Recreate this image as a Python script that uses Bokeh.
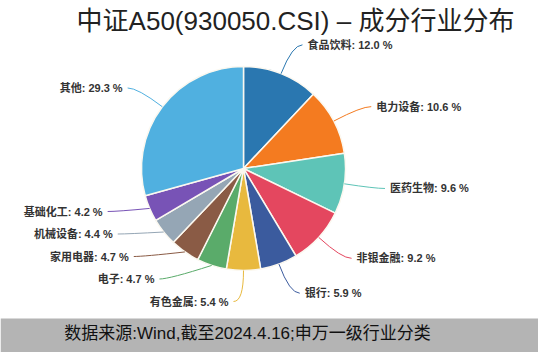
import numpy as np
from bokeh.plotting import figure
from bokeh.models import Range1d, ColumnDataSource
from bokeh.core.properties import value
from bokeh.embed import file_html
from bokeh.resources import INLINE

# ---- data ----
industries = ["食品饮料", "电力设备", "医药生物", "非银金融", "银行", "有色金属",
              "电子", "家用电器", "机械设备", "基础化工", "其他"]
weights = [12.0, 10.6, 9.6, 9.2, 5.9, 5.4, 4.7, 4.7, 4.4, 4.2, 29.3]
colors = ["#2a77b0", "#f47b20", "#5ec4b7", "#e4475f", "#3b5b9e", "#e8b93e",
          "#5aab6a", "#8a5b45", "#95a6b5", "#7853b6", "#50b0e0"]
title_text = "中证A50(930050.CSI) – 成分行业分布"
source_text = "数据来源:Wind,截至2024.4.16;申万一级行业分类"

# ---- layout ----
W, H = 538, 352
CX, CY = 243, 168          # pie centre in screen px (y downward)
R = 102                    # pie radius
R1 = 133                   # leader elbow radius
L2 = 10                    # horizontal leader length
GAP = 5
MIN_SEP = 22.5
FONT = "Liberation Sans, Noto Sans CJK SC"

def fy(ypx):
    return H - ypx

w = np.array(weights, dtype=float)
frac = w / w.sum()
cum = np.concatenate([[0.0], np.cumsum(frac)])
th0 = cum[:-1] * 2 * np.pi
th1 = cum[1:] * 2 * np.pi
mid = (th0 + th1) / 2

p = figure(width=W, height=H, output_backend="svg", toolbar_location=None,
           x_range=Range1d(0, W), y_range=Range1d(0, H), min_border=0)
p.axis.visible = False
p.grid.visible = False
p.outline_line_color = None
p.background_fill_color = "white"
p.border_fill_color = "white"

wsrc = ColumnDataSource(dict(
    x=[CX] * len(w), y=[fy(CY)] * len(w),
    start=list(np.pi / 2 - th1), end=list(np.pi / 2 - th0),
    color=colors))
p.wedge(x="x", y="y", radius=R, radius_units="screen", start_angle="start",
        end_angle="end", direction="anticlock", fill_color="color",
        line_color="#fbf8f0", line_width=1.5, source=wsrc)

# label positions
sx = np.sin(mid)
right = sx > 1e-6
ey = CY - R1 * np.cos(mid)
ey = ey.copy()
for side in (True, False):
    idx = [i for i in range(len(w)) if right[i] == side]
    idx.sort(key=lambda i: -ey[i])  # bottom first
    prev = None
    for i in idx:
        if prev is not None and ey[i] > prev - MIN_SEP:
            ey[i] = prev - MIN_SEP
        prev = ey[i]

for i in range(len(w)):
    s = 1 if right[i] else -1
    x0 = CX + R * np.sin(mid[i])
    y0 = CY - R * np.cos(mid[i])
    dy = ey[i] - CY
    ex = CX + s * np.sqrt(max(R1 ** 2 - dy ** 2, 0.0))
    lx = ex + s * L2
    p.quadratic(x0=x0, y0=fy(y0), x1=lx, y1=fy(ey[i]), cx=ex, cy=fy(ey[i]),
                line_color=colors[i], line_width=1)
    p.text(x=[lx + s * GAP], y=[fy(ey[i])],
           text=[f"{industries[i]}: {weights[i]:.1f} %"],
           text_font=value(FONT), text_font_size="11px", text_font_style="bold",
           text_color="#333333", text_baseline="middle",
           text_align="left" if right[i] else "right")

# title
p.text(x=[295], y=[fy(20)], text=[title_text], text_font=value(FONT),
       text_font_size="26px", text_color="#222222", text_align="center",
       text_baseline="middle")

# footer band
p.quad(left=[0], right=[W], bottom=[0], top=[fy(318)], fill_color="#b4b4b4",
       line_color=None)
p.text(x=[247], y=[fy(333)], text=[source_text], text_font=value(FONT),
       text_font_size="17px", text_color="#111111", text_align="center",
       text_baseline="middle")

open("out.html", "w").write(file_html(p, INLINE))
